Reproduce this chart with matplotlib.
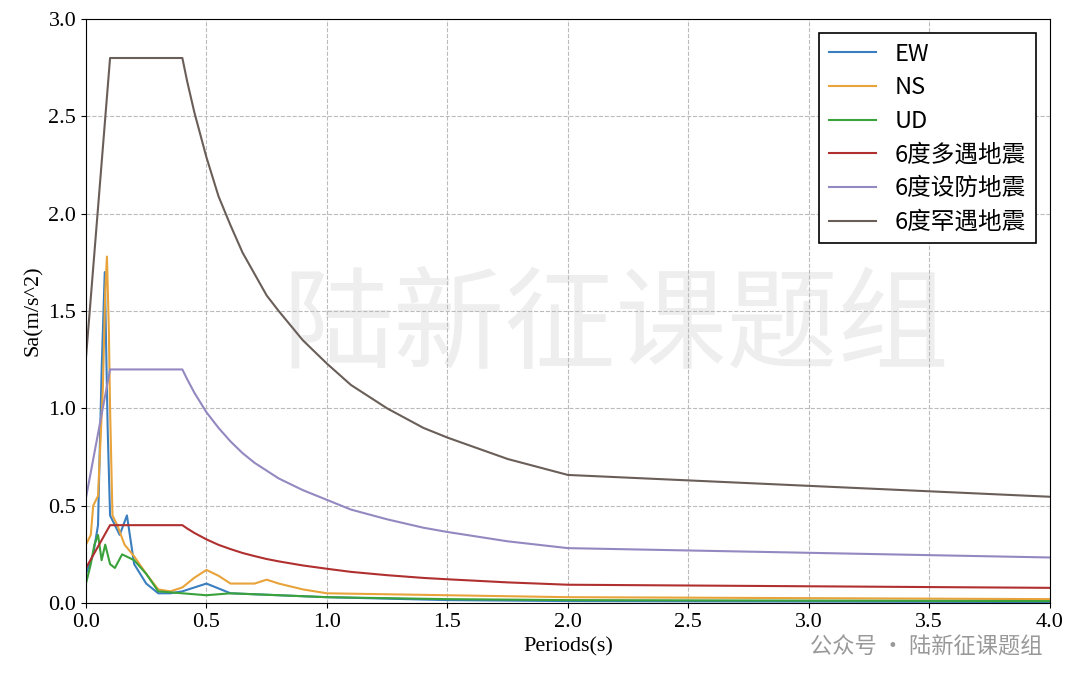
import matplotlib
matplotlib.use("Agg")
import matplotlib.pyplot as plt

T_code = [0.0, 0.1, 0.4, 0.42, 0.45, 0.5, 0.55, 0.6, 0.65, 0.7, 0.75, 0.8, 0.9, 1.0, 1.1, 1.25, 1.4, 1.5, 1.75, 2.0, 4.0]
rare = [1.26, 2.80, 2.80, 2.68, 2.52, 2.29, 2.09, 1.94, 1.80, 1.69, 1.58, 1.50, 1.35, 1.23, 1.12, 1.00, 0.90, 0.85, 0.74, 0.658, 0.546]
fort = [0.54, 1.20, 1.20, 1.15, 1.08, 0.98, 0.90, 0.83, 0.77, 0.72, 0.68, 0.64, 0.58, 0.53, 0.48, 0.43, 0.387, 0.365, 0.317, 0.282, 0.234]
freq = [0.18, 0.40, 0.40, 0.383, 0.36, 0.327, 0.299, 0.277, 0.257, 0.241, 0.226, 0.214, 0.193, 0.176, 0.160, 0.143, 0.129, 0.122, 0.106, 0.094, 0.078]

T_ns = [0.0, 0.02, 0.03, 0.05, 0.07, 0.08, 0.087, 0.095, 0.1, 0.11, 0.13, 0.16, 0.2, 0.25, 0.3, 0.35, 0.4, 0.45, 0.5, 0.55, 0.6, 0.7, 0.75, 0.8, 0.9, 1.0, 1.5, 2.0, 4.0]
ns = [0.30, 0.35, 0.50, 0.55, 1.10, 1.60, 1.78, 1.40, 1.00, 0.45, 0.40, 0.30, 0.24, 0.15, 0.07, 0.06, 0.08, 0.13, 0.17, 0.14, 0.10, 0.10, 0.12, 0.10, 0.07, 0.05, 0.04, 0.03, 0.02]
T_ew = [0.0, 0.03, 0.05, 0.065, 0.078, 0.09, 0.1, 0.12, 0.14, 0.17, 0.2, 0.25, 0.3, 0.35, 0.4, 0.5, 0.6, 0.8, 1.0, 1.5, 2.0, 4.0]
ew = [0.15, 0.25, 0.40, 1.20, 1.70, 0.90, 0.45, 0.40, 0.35, 0.45, 0.20, 0.10, 0.05, 0.05, 0.06, 0.10, 0.05, 0.04, 0.03, 0.015, 0.01, 0.005]
T_ud = [0.0, 0.02, 0.035, 0.05, 0.065, 0.08, 0.1, 0.12, 0.15, 0.2, 0.25, 0.3, 0.4, 0.5, 0.6, 0.8, 1.0, 1.5, 2.0, 4.0]
ud = [0.10, 0.20, 0.30, 0.35, 0.22, 0.30, 0.20, 0.18, 0.25, 0.22, 0.15, 0.06, 0.05, 0.04, 0.05, 0.04, 0.03, 0.02, 0.015, 0.01]

fig = plt.figure(figsize=(10.8, 6.81), dpi=100)
ax = fig.add_axes([0.0796, 0.1145, 0.8924, 0.8575])
ax.text(0.55, 0.47, "陆新征课题组", transform=ax.transAxes, fontsize=80, color="#eeeeee",
        ha="center", va="center", family="Noto Sans CJK SC", zorder=0)
ax.plot(T_ew, ew, color="#3a7ebf", lw=1.5, label="EW")
ax.plot(T_ns, ns, color="#e8a33a", lw=1.5, label="NS")
ax.plot(T_ud, ud, color="#3aa23a", lw=1.5, label="UD")
ax.plot(T_code, freq, color="#b03030", lw=1.5, label="6度多遇地震")
ax.plot(T_code, fort, color="#9488c0", lw=1.5, label="6度设防地震")
ax.plot(T_code, rare, color="#6a5e58", lw=1.5, label="6度罕遇地震")
ax.set_xlim(0, 4.0)
ax.set_ylim(0, 3.0)
ax.set_xticks([0, 0.5, 1, 1.5, 2, 2.5, 3, 3.5, 4])
ax.set_yticks([0, 0.5, 1, 1.5, 2, 2.5, 3])
ax.set_xticklabels(["0.0", "0.5", "1.0", "1.5", "2.0", "2.5", "3.0", "3.5", "4.0"])
ax.set_yticklabels(["0.0", "0.5", "1.0", "1.5", "2.0", "2.5", "3.0"])
for lab in ax.get_xticklabels() + ax.get_yticklabels():
    lab.set_family("Liberation Serif"); lab.set_fontsize(16)
ax.grid(True, ls="--", color="#bbbbbb", lw=0.8)
ax.set_xlabel("Periods(s)", family="Liberation Serif", fontsize=16)
ax.set_ylabel("Sa(m/s^2)", family="Liberation Serif", fontsize=16)
leg = ax.legend(loc="upper right", prop={"family": ["Noto Sans CJK SC", "DejaVu Sans"], "size": 17},
                fancybox=False, edgecolor="black", framealpha=1, handlelength=2.0,
                labelspacing=0.45, borderaxespad=0.6)
leg.get_frame().set_linewidth(1.2)
fig.text(0.965, 0.05, "公众号 · 陆新征课题组", ha="right", va="center", fontsize=16,
         color="#999999", family="Noto Sans CJK SC")
fig.savefig("out.png", dpi=100)
